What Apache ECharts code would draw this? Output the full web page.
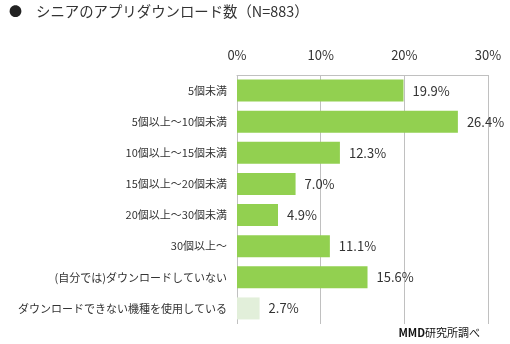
<!DOCTYPE html>
<html><head><meta charset="utf-8">
<script src="https://cdn.jsdelivr.net/npm/echarts@6/dist/echarts.min.js"></script>
<style>html,body{margin:0;padding:0;background:#fff}#c{width:510px;height:344px}</style>
</head><body><div id="c"></div>
<script>
var categories = ['5個未満','5個以上～10個未満','10個以上～15個未満','15個以上～20個未満','20個以上～30個未満','30個以上～','(自分では)ダウンロードしていない','ダウンロードできない機種を使用している'];
var values = [19.9, 26.4, 12.3, 7.0, 4.9, 11.1, 15.6, 2.7];
var tickLabels = ['0%','10%','20%','30%'];
var titleText = 'シニアのアプリダウンロード数（N=883）';
var sourceText = '研究所調べ';

var font = '"Noto Sans CJK JP", sans-serif';
var chart = echarts.init(document.getElementById('c'));
chart.setOption({
  animation: false,
  grid: {left: 237, top: 75, width: 251, height: 249, containLabel: false},
  xAxis: {
    type: 'value', position: 'top', min: 0, max: 30, interval: 10,
    axisLine: {show: true, lineStyle: {color: '#c0c0c0', width: 1}},
    axisTick: {show: false},
    splitLine: {show: true, lineStyle: {color: '#c0c0c0', width: 1}},
    axisLabel: {
      formatter: function (v) { return tickLabels[Math.round(v / 10)]; },
      color: '#333', fontSize: 13, fontFamily: font, margin: 13
    }
  },
  yAxis: {
    type: 'category', inverse: true, data: categories,
    axisLine: {show: false}, axisTick: {show: false},
    axisLabel: {color: '#333', fontSize: 11, fontFamily: font, margin: 10}
  },
  series: [{
    type: 'bar', barWidth: 22,
    data: values.map(function (v, i) {
      return {value: v, itemStyle: {color: i === values.length - 1 ? '#e2efda' : '#92d050'}};
    }),
    label: {
      show: true, position: 'right', distance: 9,
      formatter: function (p) { return p.value.toFixed(1) + '%'; },
      color: '#333', fontSize: 13, fontFamily: font
    }
  }],
  graphic: [
    {type: 'text', left: 9, top: 5, style: {text: '●', fontSize: 13, fill: '#222', fontFamily: font}},
    {type: 'text', left: 36, top: 4, style: {text: titleText, fontSize: 14.4, fill: '#333', fontFamily: font}},
    {type: 'text', right: 30, top: 327, style: {
      text: '{b|MMD}{n|' + sourceText + '}',
      rich: {b: {fontWeight: 'bold', fontSize: 11, fill: '#111', fontFamily: font},
             n: {fontSize: 11, fill: '#111', fontFamily: font}}
    }}
  ]
});
</script></body></html>
